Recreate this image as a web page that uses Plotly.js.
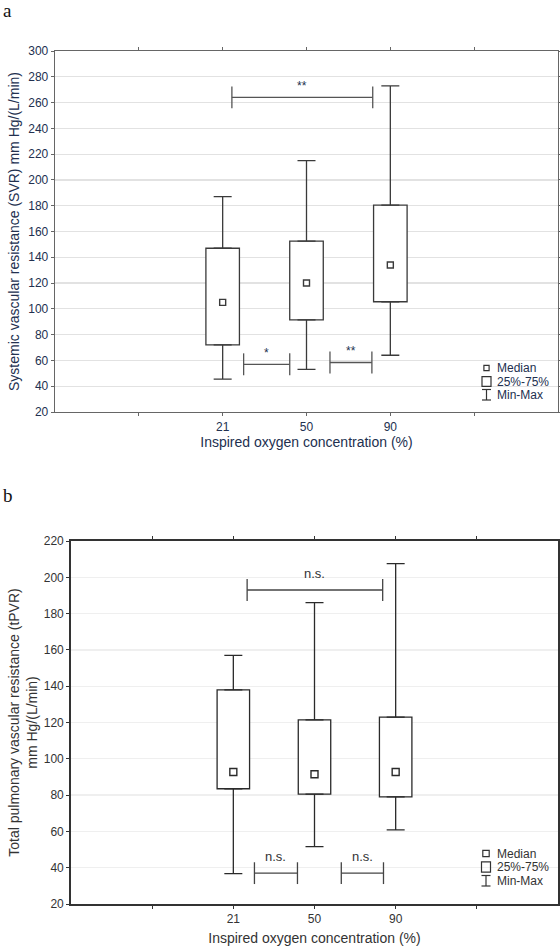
<!DOCTYPE html>
<html>
<head>
<meta charset="utf-8">
<script src="https://cdn.plot.ly/plotly-3.0.1.min.js"></script>
<style>
  html, body { margin: 0; padding: 0; background: #fff; }
  #chart { width: 560px; height: 946px; }
</style>
</head>
<body>
<div id="chart"></div>
<script>
// Inspired oxygen concentration groups (%)
const categories = ['21', '50', '90'];

// Panel a: systemic vascular resistance (SVR), mm Hg/(L/min)
const svrMin    = [45.5, 53, 64];
const svrQ1     = [72, 91.5, 105.5];
const svrMedian = [105, 120, 134];
const svrQ3     = [147, 152.5, 180.5];
const svrMax    = [187, 215, 273];

// Panel b: total pulmonary vascular resistance (tPVR), mm Hg/(L/min)
const pvrMin    = [36.7, 51.6, 60.8];
const pvrQ1     = [83.5, 80.5, 79];
const pvrMedian = [92.7, 91.5, 92.7];
const pvrQ3     = [138, 121.5, 123];
const pvrMax    = [157, 186, 207.5];

// Significance brackets between groups
const svrTests = [
  { x0: 2.11, x1: 3.79, y: 264,  label: '**' },
  { x0: 2.25, x1: 2.80, y: 57,   label: '*'  },
  { x0: 3.28, x1: 3.78, y: 58.4, label: '**' }
];
const pvrTests = [
  { x0: 2.17, x1: 3.84, y: 193, label: 'n.s.' },
  { x0: 2.26, x1: 2.79, y: 37,  label: 'n.s.' },
  { x0: 3.33, x1: 3.85, y: 37,  label: 'n.s.' }
];

const legendLabels = ['Median', '25%-75%', 'Min-Max'];

// ---------------------------------------------------------------
const W = 560, H = 946;
const px = v => v / W;
const py = v => 1 - v / H;
const FONT = '"Liberation Sans", Arial, sans-serif';
const NAVY = '#22304f';
const DARK = '#333333';

const xpos = categories.map((c, i) => i + 2);

function boxTraces(xa, ya, mn, q1, med, q3, mx, lineColor, markSize) {
  const common = { xaxis: xa, yaxis: ya, hoverinfo: 'skip', showlegend: false };
  return [
    // interquartile box
    Object.assign({
      type: 'bar', x: xpos, base: q1, y: q3.map((v, i) => v - q1[i]), width: 0.4,
      marker: { color: '#ffffff', line: { color: lineColor, width: 1.3 } }
    }, common),
    // upper whisker: Q3 -> max
    Object.assign({
      type: 'scatter', mode: 'markers', x: xpos, y: q3,
      marker: { size: 1, opacity: 0 },
      error_y: { type: 'data', symmetric: false, array: mx.map((v, i) => v - q3[i]),
                 arrayminus: q3.map(() => 0), color: lineColor, thickness: 1.3, width: 9 }
    }, common),
    // lower whisker: min -> Q1
    Object.assign({
      type: 'scatter', mode: 'markers', x: xpos, y: q1,
      marker: { size: 1, opacity: 0 },
      error_y: { type: 'data', symmetric: false, array: q1.map(() => 0),
                 arrayminus: q1.map((v, i) => v - mn[i]), color: lineColor, thickness: 1.3, width: 9 }
    }, common),
    // median
    Object.assign({
      type: 'scatter', mode: 'markers', x: xpos, y: med,
      marker: { symbol: 'square-open', size: markSize, color: lineColor, line: { width: 1.4, color: lineColor } }
    }, common)
  ];
}

const data = [].concat(
  boxTraces('x', 'y', svrMin, svrQ1, svrMedian, svrQ3, svrMax, '#3a3a3a', 6),
  boxTraces('x2', 'y2', pvrMin, pvrQ1, pvrMedian, pvrQ3, pvrMax, '#2a2a2a', 7)
);

function xAxis(anchor, domain, lineColor, lineWidth, textColor, standoff) {
  return {
    anchor: anchor, domain: domain, range: [0, 6],
    tickvals: [1, 2, 3, 4, 5], ticktext: ['', categories[0], categories[1], categories[2], ''],
    showgrid: false, zeroline: false, showline: true, mirror: 'ticks',
    linecolor: lineColor, linewidth: lineWidth,
    ticks: 'outside', ticklen: 3, tickcolor: lineColor, tickwidth: 1,
    tickfont: { family: FONT, size: 12, color: textColor },
    title: { text: 'Inspired oxygen concentration (%)', font: { family: FONT, size: 14, color: textColor }, standoff: standoff }
  };
}
function yAxis(anchor, domain, range, lineColor, lineWidth, gridColor, textColor, title, standoff) {
  return {
    anchor: anchor, domain: domain, range: range, dtick: 20, tick0: 0,
    showgrid: true, gridcolor: gridColor, gridwidth: 1.2,
    zeroline: false, showline: true, mirror: 'ticks',
    linecolor: lineColor, linewidth: lineWidth,
    ticks: 'outside', ticklen: 3, tickcolor: lineColor, tickwidth: 1,
    tickfont: { family: FONT, size: 12, color: textColor },
    title: { text: title, font: { family: FONT, size: 14, color: textColor }, standoff: standoff }
  };
}

const shapes = [];
const annotations = [];

function addBrackets(tests, xa, ya, half, gap, color, textColor, fontSize) {
  tests.forEach(t => {
    const ln = { type: 'line', xref: xa, yref: ya, line: { color: color, width: 1.3 } };
    shapes.push(Object.assign({ x0: t.x0, x1: t.x1, y0: t.y, y1: t.y }, ln));
    shapes.push(Object.assign({ x0: t.x0, x1: t.x0, y0: t.y - half, y1: t.y + half }, ln));
    shapes.push(Object.assign({ x0: t.x1, x1: t.x1, y0: t.y - half, y1: t.y + half }, ln));
    annotations.push({
      xref: xa, yref: ya, x: (t.x0 + t.x1) / 2, y: t.y, yshift: gap,
      text: t.label, showarrow: false, xanchor: 'center', yanchor: 'middle',
      font: { family: FONT, size: fontSize, color: textColor }
    });
  });
}
addBrackets(svrTests, 'x', 'y', 8.5, 11, '#555555', NAVY, 12);
addBrackets(pvrTests, 'x2', 'y2', 6, 17, '#444444', DARK, 13);

// custom key: median marker, box, whisker
function addKey(cx, rows, smallHalf, boxHalf, color, textColor) {
  const pl = { xref: 'paper', yref: 'paper', line: { color: color, width: 1.2 } };
  shapes.push(Object.assign({ type: 'rect', x0: px(cx - smallHalf), x1: px(cx + smallHalf),
    y0: py(rows[0] - smallHalf), y1: py(rows[0] + smallHalf) }, pl));
  shapes.push(Object.assign({ type: 'rect', x0: px(cx - 4.5), x1: px(cx + 4.5),
    y0: py(rows[1] - boxHalf), y1: py(rows[1] + boxHalf) }, pl));
  shapes.push(Object.assign({ type: 'line', x0: px(cx), x1: px(cx), y0: py(rows[2] - 5.5), y1: py(rows[2] + 5) }, pl));
  shapes.push(Object.assign({ type: 'line', x0: px(cx - 4.5), x1: px(cx + 4.5), y0: py(rows[2] - 5.5), y1: py(rows[2] - 5.5) }, pl));
  shapes.push(Object.assign({ type: 'line', x0: px(cx - 4.5), x1: px(cx + 4.5), y0: py(rows[2] + 5), y1: py(rows[2] + 5) }, pl));
  legendLabels.forEach((lab, i) => {
    annotations.push({
      xref: 'paper', yref: 'paper', x: px(cx + 8.5), y: py(rows[i]),
      text: lab, showarrow: false, xanchor: 'left', yanchor: 'middle',
      font: { family: FONT, size: 12, color: textColor }
    });
  });
}
addKey(486.5, [368, 381.5, 395], 2.6, 4.8, '#333333', NAVY);
addKey(486, [853.5, 867, 881], 3.2, 5.2, '#333333', DARK);

// panel letters
annotations.push({ xref: 'paper', yref: 'paper', x: px(1), y: py(-2), text: 'a', showarrow: false,
  xanchor: 'left', yanchor: 'top', font: { family: '"Liberation Serif", "Times New Roman", serif', size: 19, color: '#111' } });
annotations.push({ xref: 'paper', yref: 'paper', x: px(1), y: py(483), text: 'b', showarrow: false,
  xanchor: 'left', yanchor: 'top', font: { family: '"Liberation Serif", "Times New Roman", serif', size: 19, color: '#111' } });

const layout = {
  width: W, height: H,
  margin: { l: 0, r: 0, t: 0, b: 0 },
  paper_bgcolor: '#ffffff', plot_bgcolor: '#ffffff',
  showlegend: false, bargap: 0,
  xaxis:  xAxis('y', [px(55), px(558)], '#666666', 1.3, NAVY, 3),
  yaxis:  yAxis('x', [py(412), py(51)], [20, 300], '#666666', 1.3, '#e2e2e2', NAVY,
                'Systemic vascular resistance (SVR) mm Hg/(L/min)', 5),
  xaxis2: xAxis('y2', [px(71), px(558)], '#333333', 1.8, DARK, 8),
  yaxis2: yAxis('x2', [py(904), py(541)], [20, 220], '#333333', 1.8, '#efefef', DARK,
                'Total pulmonary vascular resistance (tPVR)<br>mm Hg/(L/min)', 3),
  shapes: shapes,
  annotations: annotations
};

Plotly.newPlot('chart', data, layout, { displayModeBar: false, staticPlot: true });
</script>
</body>
</html>
